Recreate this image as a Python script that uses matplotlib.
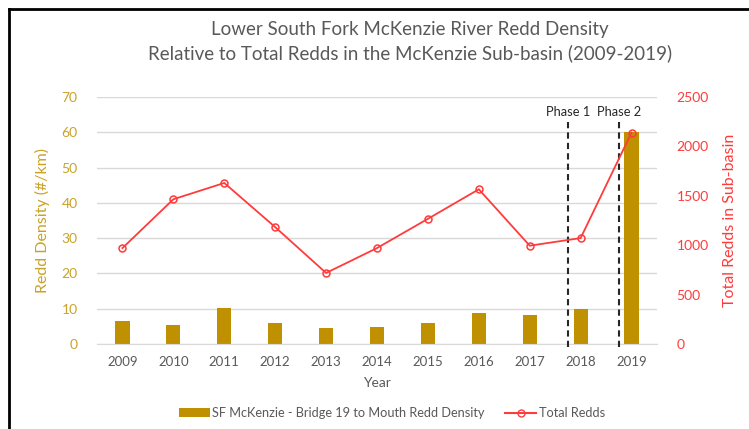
import numpy as np
import matplotlib
matplotlib.use('Agg')
import matplotlib.pyplot as plt
from matplotlib.lines import Line2D
from matplotlib.patches import Patch

plt.rcParams['font.family'] = ['Lato', 'DejaVu Sans']

years = ['2009', '2010', '2011', '2012', '2013', '2014', '2015', '2016', '2017', '2018', '2019']
density = [6.4, 5.3, 10.2, 6.0, 4.4, 4.7, 6.0, 8.7, 8.3, 9.8, 60.0]
total_redds = [971, 1465, 1630, 1183, 719, 971, 1267, 1566, 995, 1072, 2140]
phases = ['Phase 1', 'Phase 2']
phase_pos = [8.75, 9.75]

GOLD = '#BF9000'
GOLD_TXT = '#C9A227'
RED = '#FF3B3B'
GRAY = '#595959'

fig = plt.figure(figsize=(7.49, 4.29), dpi=100)
ax = fig.add_axes([97 / 749, 1 - 344 / 429, (657 - 97) / 749, (344 - 97) / 429])
ax2 = ax.twinx()

x = np.arange(len(years))
ax.bar(x, density, width=0.28, color=GOLD, zorder=2)
ax.set_ylim(0, 70)
ax.set_yticks(np.arange(0, 71, 10))
ax.set_xlim(-0.5, len(years) - 0.5)
ax.set_xticks(x)
ax.set_xticklabels(years)
ax.grid(axis='y', color='#D9D9D9', linewidth=1, zorder=0)
ax.set_axisbelow(True)

ax2.plot(x, total_redds, color=RED, linewidth=1.3, marker='o', markersize=5,
         markerfacecolor='none', markeredgecolor=RED, markeredgewidth=1.1, zorder=3)
ax2.set_ylim(0, 2500)
ax2.set_yticks(np.arange(0, 2501, 500))

for name, p in zip(phases, phase_pos):
    ax.axvline(p, ymin=-0.012, ymax=0.9, color='#262626', linestyle=(0, (3, 2)),
               linewidth=1.5, zorder=4, clip_on=False)
    ax.text(p, 65.7, name, ha='center', va='center', fontsize=9.3, color='#262626')

for a in (ax, ax2):
    for s in a.spines.values():
        s.set_visible(False)
    a.tick_params(length=0)

ax.spines['bottom'].set_visible(True)
ax.spines['bottom'].set_color('#D9D9D9')

ax.tick_params(axis='x', colors=GRAY, labelsize=9.5, pad=9)
ax.tick_params(axis='y', colors=GOLD_TXT, labelsize=10, pad=14)
ax2.tick_params(axis='y', colors=RED, labelsize=10, pad=14)

ax.set_xlabel('Year', color=GRAY, fontsize=10, labelpad=6)
ax.set_ylabel('Redd Density (#/km)', color=GOLD_TXT, fontsize=11.5, labelpad=8)
ax2.set_ylabel('Total Redds in Sub-basin', color=RED, fontsize=11.5, labelpad=10)

fig.text(410 / 749, 1 - 30 / 429, 'Lower South Fork McKenzie River Redd Density',
         ha='center', va='center', fontsize=13.5, color=GRAY)
fig.text(410 / 749, 1 - 53 / 429, 'Relative to Total Redds in the McKenzie Sub-basin (2009-2019)',
         ha='center', va='center', fontsize=13.5, color=GRAY)

handles = [Patch(facecolor=GOLD, edgecolor='none'),
           Line2D([0], [0], color=RED, marker='o', markerfacecolor='none', markersize=5)]
fig.legend(handles, ['SF McKenzie - Bridge 19 to Mouth Redd Density', 'Total Redds'],
           loc='center', bbox_to_anchor=(392 / 749, 1 - 413 / 429), ncol=2, frameon=False,
           fontsize=9.2, labelcolor=GRAY, columnspacing=1.6, handlelength=2.4, handletextpad=0.2)

# chart frame (top and left edges visible in the crop)
fig.add_artist(Line2D([9 / 749, 1], [1 - 9 / 429, 1 - 9 / 429], color='black', linewidth=2))
fig.add_artist(Line2D([9 / 749, 9 / 749], [0, 1 - 9 / 429], color='black', linewidth=2))

fig.savefig('out.png', dpi=100)
